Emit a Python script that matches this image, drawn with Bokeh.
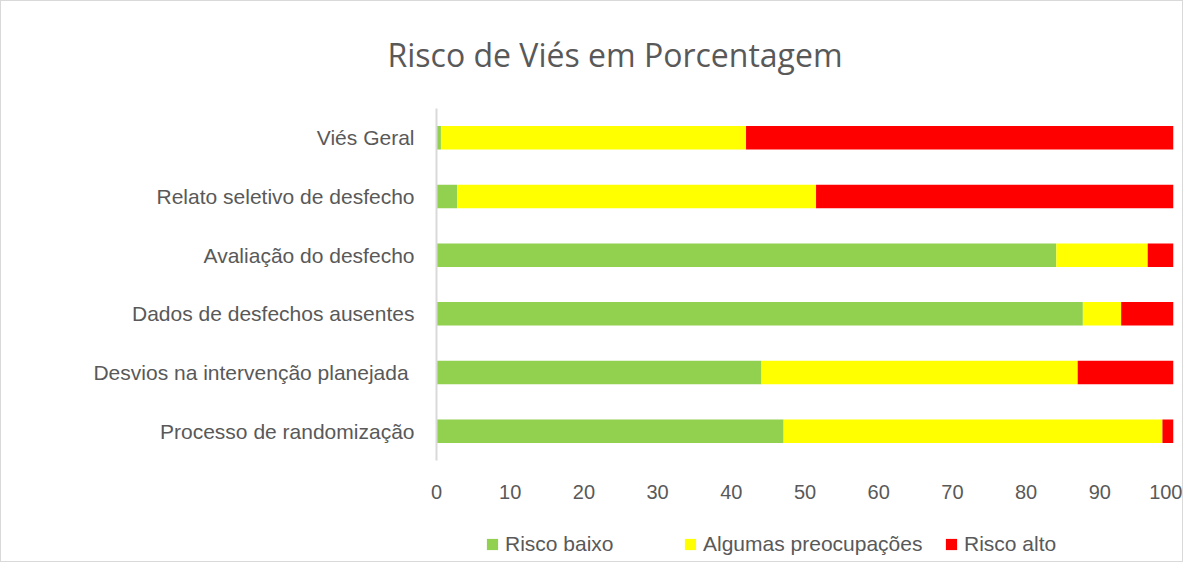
from bokeh.plotting import figure
from bokeh.layouts import column
from bokeh.models import FactorRange, Range1d, Legend, LegendItem, FixedTicker, Title
from bokeh.embed import file_html
from bokeh.resources import INLINE

categories = ["Viés Geral", "Relato seletivo de desfecho", "Avaliação do desfecho",
              "Dados de desfechos ausentes", "Desvios  na intervenção planejada",
              "Processo de randomização"]
risco_baixo = [0.6, 2.8, 84.1, 87.7, 44.1, 47.1]
algumas = [41.4, 48.7, 12.4, 5.2, 42.9, 51.4]
risco_alto = [58.0, 48.5, 3.5, 7.1, 13.0, 1.5]
series_names = ["Risco baixo", "Algumas preocupações", "Risco alto"]
colors = ["#92d050", "#ffff00", "#ff0000"]
x_ticks = [0, 10, 20, 30, 40, 50, 60, 70, 80, 90, 100]

factors = list(reversed(categories))
data = {"cat": categories, "Risco baixo": risco_baixo,
        "Algumas preocupações": algumas, "Risco alto": risco_alto}

p = figure(width=1181, height=505, output_backend="svg", toolbar_location=None,
           y_range=FactorRange(factors=factors), x_range=Range1d(0, 100),
           min_border_left=435, min_border_right=9, min_border_top=104,
           min_border_bottom=46)
p.outline_line_color = None
p.xgrid.grid_line_color = None
p.ygrid.grid_line_color = None

rs = p.hbar_stack(series_names, y="cat", height=0.4, color=colors, source=data,
                  line_color=None)

p.title = Title(text="Risco de Viés em Porcentagem", align="left", offset=-49,
                vertical_align="top",
                text_font="Open Sans", text_font_size="32px", text_font_style="normal",
                text_color="#595959", standoff=62)

p.xaxis.ticker = FixedTicker(ticks=x_ticks)
p.xaxis.axis_line_color = None
p.xaxis.major_tick_line_color = None
p.xaxis.minor_tick_line_color = None
p.xaxis.major_label_text_font = "Liberation Sans"
p.xaxis.major_label_text_font_size = "20px"
p.xaxis.major_label_text_color = "#595959"
p.xaxis.major_label_standoff = 18

p.yaxis.axis_line_color = "#d9d9d9"
p.yaxis.axis_line_width = 2
p.yaxis.major_tick_line_color = None
p.yaxis.minor_tick_line_color = None
p.yaxis.major_label_text_font = "Liberation Sans"
p.yaxis.major_label_text_font_size = "21px"
p.yaxis.major_label_text_color = "#595959"
p.yaxis.major_label_standoff = 16

# legend strip (hidden copies of the series provide the legend swatches)
p2 = figure(width=1181, height=55, output_backend="svg", toolbar_location=None,
            y_range=FactorRange(factors=factors), x_range=Range1d(0, 100),
            min_border=0)
p2.axis.visible = False
p2.grid.visible = False
p2.outline_line_color = None
rs2 = p2.hbar_stack(series_names, y="cat", height=0.4, color=colors, source=data,
                    line_color=None)
for r in rs2:
    r.visible = False

xs = [49, 247, 508]
for r, name, x in zip(rs2, series_names, xs):
    lg = Legend(items=[LegendItem(label=name, renderers=[r])], location=(x, 5),
                orientation="horizontal", padding=0, margin=0, border_line_color=None,
                background_fill_alpha=0, inactive_fill_alpha=0,
                glyph_width=14, glyph_height=14, label_standoff=6,
                label_text_font="Liberation Sans", label_text_font_size="21px",
                label_text_color="#595959")
    p2.add_layout(lg, "center")

layout = column(p, p2, spacing=0)
layout.styles = {"border": "1px solid #d9d9d9"}

open("out.html", "w").write(file_html(layout, INLINE))
